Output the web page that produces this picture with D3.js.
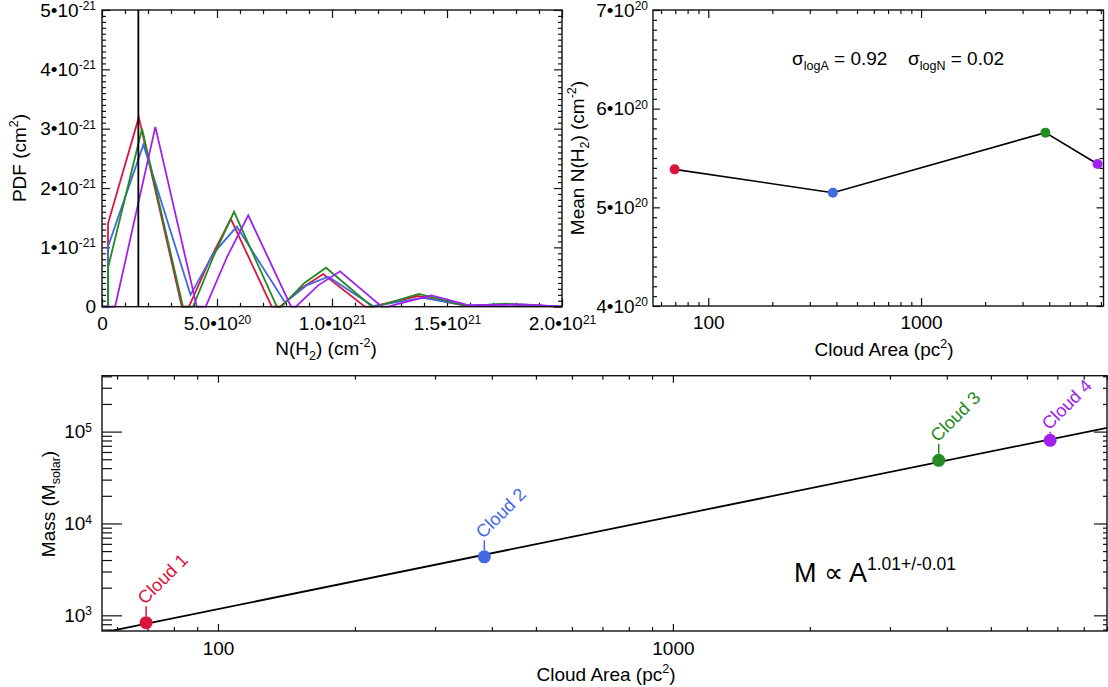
<!DOCTYPE html>
<html><head><meta charset="utf-8">
<script src="https://cdn.jsdelivr.net/npm/d3@7"></script>
<style>
body{margin:0;background:#fff;}
svg{display:block;}
</style></head><body>
<svg id="chart" width="1108" height="687"></svg>
<script>
// ---------------- DATA ----------------
const cloudNames = ["Cloud 1", "Cloud 2", "Cloud 3", "Cloud 4"];
const cloudColors = ["#DC143C", "#4169E1", "#228B22", "#A020F0"];
const cloudArea = [69.5, 385, 3840, 6750];                 // pc^2
const cloudMeanN = [5.385e20, 5.148e20, 5.757e20, 5.439e20]; // cm^-2
const cloudMass = [832, 4335, 48700, 80300];               // M_solar
const fitSlope = 1.01, fitErr = 0.01, fitLogNorm = 1.048;
const sigmaLogA = 0.92, sigmaLogN = 0.02;
const nThreshold = 1.58e20;

// PDF curves: N in units of 1e20 cm^-2, PDF in units of 1e-21 cm^2
const pdf1N = [0,0.26,0.26,1.60,3.47,3.78,4.70,5.60,7.38,7.74,8.70,9.62,11.43,11.74,13.74,15.87,17.52,20];
const pdf1P = [0,0,1.40,3.19,0,0,0.80,1.48,0,0,0.32,0.55,0,0,0.18,0.01,0.04,0];
const pdf2N = [0,0.26,0.26,1.80,3.85,4.85,5.86,7.96,8.90,9.84,11.78,13.96,15.87,17.52,20];
const pdf2P = [0,0,1.01,2.73,0.20,0.90,1.35,0.07,0.36,0.505,0.01,0.15,0.02,0.04,0];
const pdf3N = [0,0.27,0.27,1.74,3.52,3.96,4.85,5.74,7.60,7.81,8.80,9.74,11.74,11.91,13.78,15.87,17.52,20];
const pdf3P = [0,0,0.67,3.00,0,0,0.85,1.60,0,0,0.40,0.657,0,0,0.214,0.01,0.05,0];
const pdf4N = [0,0.57,2.32,4.12,4.51,5.45,6.36,8.22,8.43,9.40,10.35,12.16,12.43,14.33,16.0,18.3,20];
const pdf4P = [0,0,3.03,0,0,0.85,1.54,0,0,0.36,0.596,0,0,0.19,0.02,0.04,0];
const pdfN = [pdf1N, pdf2N, pdf3N, pdf4N];
const pdfP = [pdf1P, pdf2P, pdf3P, pdf4P];

// tick labels
const pdfXTicks = [0, 5e20, 1e21, 1.5e21, 2e21];
const pdfXTickBase = ["0", "5.0•10", "1.0•10", "1.5•10", "2.0•10"];
const pdfXTickExp = ["", "20", "21", "21", "21"];
const pdfYTicks = [0, 1e-21, 2e-21, 3e-21, 4e-21, 5e-21];
const pdfYTickBase = ["0", "1•10", "2•10", "3•10", "4•10", "5•10"];
const pdfYTickExp = ["", "-21", "-21", "-21", "-21", "-21"];
const meanYTicks = [4e20, 5e20, 6e20, 7e20];
const meanYTickBase = ["4•10", "5•10", "6•10", "7•10"];
const meanYTickExp = ["20", "20", "20", "20"];
const areaTicks = [100, 1000];
const areaTickLabels = ["100", "1000"];
const massTicks = [1e3, 1e4, 1e5];
const massTickBase = ["10", "10", "10"];
const massTickExp = ["3", "4", "5"];

// ---------------- DRAWING ----------------
const F = '"Liberation Sans", Arial, Helvetica, sans-serif';
const INK = "#111";
const svg = d3.select("#chart").attr("font-family", F);
const labelStem = [10, 10, 10, 2];

function frame(x0, y0, x1, y1) {
  svg.append("rect").attr("x", x0).attr("y", y0).attr("width", x1 - x0).attr("height", y1 - y0)
    .attr("fill", "none").attr("stroke", INK).attr("stroke-width", 1.4);
}
function axis(fn, scale, values, size, tx, ty, labeler, pad) {
  const a = fn(scale).tickValues(values).tickSize(size).tickSizeOuter(0)
    .tickPadding(pad || 0).tickFormat(() => "");
  const g = svg.append("g").attr("transform", `translate(${tx},${ty})`).call(a);
  g.select(".domain").remove();
  g.attr("font-family", F).attr("font-size", 19);
  g.selectAll(".tick line").attr("stroke", INK).attr("stroke-width", 1.2);
  if (labeler) g.selectAll(".tick text").each(function (d, i) { labeler(d3.select(this), d, i); });
  else g.selectAll(".tick text").remove();
  return g;
}
function supLabel(t, base, sup) {
  t.text(null).attr("fill", "#000");
  t.append("tspan").text(base);
  if (sup) t.append("tspan").attr("font-size", 12).attr("dy", -6.5).text(sup);
}
function rich(t, parts, small, subOff, supOff) {
  let shift = 0;
  parts.forEach(([s, m]) => {
    const target = m === "sub" ? subOff : (m === "sup" ? -supOff : 0);
    const ts = t.append("tspan").text(s).attr("dy", target - shift);
    if (m) ts.attr("font-size", small);
    shift = target;
  });
}
function minorRange(a, b, step, majors) {
  return d3.range(a, b + step / 2, step).filter(v => !majors.some(m => Math.abs(m - v) < step / 100));
}
function logMinors(lo, hi) {
  const out = [];
  for (let e = Math.floor(Math.log10(lo)); e <= Math.ceil(Math.log10(hi)); e++)
    for (let k = 2; k <= 9; k++) { const v = k * Math.pow(10, e); if (v >= lo && v <= hi) out.push(v); }
  return out;
}

// ===== Panel 1: PDFs =====
const P1 = {x0: 102, x1: 562, y0: 10, y1: 306.7};
const x1 = d3.scaleLinear().domain([0, 2e21]).range([P1.x0, P1.x1]);
const y1 = d3.scaleLinear().domain([0, 5e-21]).range([P1.y1, P1.y0]);

const pdfXMinor = minorRange(0, 2e21, 1e20, pdfXTicks);
const pdfYMinor = minorRange(0, 5e-21, 0.1e-21, pdfYTicks);
axis(d3.axisBottom, x1, pdfXMinor, -4, 0, P1.y1);
axis(d3.axisTop, x1, pdfXMinor, -4, 0, P1.y0);
axis(d3.axisTop, x1, pdfXTicks, -8, 0, P1.y0);
axis(d3.axisBottom, x1, pdfXTicks, -8, 0, P1.y1, (t, d, i) => supLabel(t, pdfXTickBase[i], pdfXTickExp[i]), 10);
axis(d3.axisLeft, y1, pdfYMinor, -4, P1.x0, 0);
axis(d3.axisRight, y1, pdfYMinor, -4, P1.x1, 0);
axis(d3.axisRight, y1, pdfYTicks, -8, P1.x1, 0);
axis(d3.axisLeft, y1, pdfYTicks, -8, P1.x0, 0, (t, d, i) => supLabel(t, pdfYTickBase[i], pdfYTickExp[i]), 6);

const pdfLine = d3.line().x(d => x1(d[0] * 1e20)).y(d => y1(d[1] * 1e-21));
pdfN.forEach((ns, k) => {
  const pts = ns.map((n, i) => [n, pdfP[k][i]]);
  svg.append("path").attr("d", pdfLine(pts)).attr("fill", "none")
    .attr("stroke", cloudColors[k]).attr("stroke-width", 1.8).attr("stroke-linejoin", "miter");
});
svg.append("line").attr("x1", x1(nThreshold)).attr("x2", x1(nThreshold))
  .attr("y1", y1(0)).attr("y2", y1(5e-21)).attr("stroke", "#000").attr("stroke-width", 1.8);
frame(P1.x0, P1.y0, P1.x1, P1.y1);

rich(svg.append("text").attr("transform", "translate(26,158) rotate(-90)")
  .attr("text-anchor", "middle").attr("font-size", 19),
  [["PDF (cm", ""], ["2", "sup"], [")", ""]], 12.5, 5, 8);
rich(svg.append("text").attr("x", 326).attr("y", 355)
  .attr("text-anchor", "middle").attr("font-size", 19),
  [["N(H", ""], ["2", "sub"], [") (cm", ""], ["-2", "sup"], [")", ""]], 12.5, 5, 8);

// ===== Panel 2: Mean N vs area =====
const P2 = {x0: 653, x1: 1103.5, y0: 10, y1: 306};
const x2 = d3.scaleLog().domain([55, 7200]).range([P2.x0, P2.x1]);
const y2 = d3.scaleLinear().domain([4e20, 7e20]).range([P2.y1, P2.y0]);
const x2Minor = logMinors(55, 7200);
const y2Minor = minorRange(4e20, 7e20, 0.1e20, meanYTicks);
axis(d3.axisBottom, x2, x2Minor, -4, 0, P2.y1);
axis(d3.axisTop, x2, x2Minor, -4, 0, P2.y0);
axis(d3.axisTop, x2, areaTicks, -8, 0, P2.y0);
axis(d3.axisBottom, x2, areaTicks, -8, 0, P2.y1, (t, d, i) => supLabel(t, areaTickLabels[i], ""), 10);
axis(d3.axisLeft, y2, y2Minor, -4, P2.x0, 0);
axis(d3.axisRight, y2, y2Minor, -4, P2.x1, 0);
axis(d3.axisRight, y2, meanYTicks, -7, P2.x1, 0);
axis(d3.axisLeft, y2, meanYTicks, -7, P2.x0, 0, (t, d, i) => supLabel(t, meanYTickBase[i], meanYTickExp[i]), 5);

const meanPts = cloudArea.map((a, i) => [a, cloudMeanN[i]]);
svg.append("path").attr("d", d3.line().x(d => x2(d[0])).y(d => y2(d[1]))(meanPts))
  .attr("fill", "none").attr("stroke", "#000").attr("stroke-width", 1.6);
svg.selectAll(".meanDot").data(meanPts).enter().append("circle")
  .attr("cx", d => x2(d[0])).attr("cy", d => y2(d[1])).attr("r", 5)
  .attr("fill", (d, i) => cloudColors[i]);
frame(P2.x0, P2.y0, P2.x1, P2.y1);

const sig1 = svg.append("text").attr("x", 792).attr("y", 65).attr("font-size", 19);
rich(sig1, [["σ", ""], ["logA", "sub"], [" = " + sigmaLogA.toFixed(2), ""]], 12.5, 5, 8);
const sig2 = svg.append("text").attr("x", 908).attr("y", 65).attr("font-size", 19);
rich(sig2, [["σ", ""], ["logN", "sub"], [" = " + sigmaLogN.toFixed(2), ""]], 12.5, 5, 8);

rich(svg.append("text").attr("transform", "translate(584,158) rotate(-90)")
  .attr("text-anchor", "middle").attr("font-size", 19),
  [["Mean N(H", ""], ["2", "sub"], [") (cm", ""], ["-2", "sup"], [")", ""]], 12.5, 5, 8);
rich(svg.append("text").attr("x", 884).attr("y", 356)
  .attr("text-anchor", "middle").attr("font-size", 19),
  [["Cloud Area (pc", ""], ["2", "sup"], [")", ""]], 12.5, 5, 8);

// ===== Panel 3: Mass vs area =====
const P3 = {x0: 102, x1: 1107, y0: 375.7, y1: 631};
const x3 = d3.scaleLog().domain([55.6, 9000]).range([P3.x0, P3.x1]);
const y3 = d3.scaleLog().domain([675, 4.06e5]).range([P3.y1, P3.y0]);
const x3Minor = logMinors(55.6, 9000);
const y3Minor = logMinors(675, 4.06e5);
axis(d3.axisBottom, x3, x3Minor, -4, 0, P3.y1);
axis(d3.axisTop, x3, x3Minor, -4, 0, P3.y0);
axis(d3.axisTop, x3, areaTicks, -7, 0, P3.y0);
axis(d3.axisBottom, x3, areaTicks, -7, 0, P3.y1, (t, d, i) => supLabel(t, areaTickLabels[i], ""), 11);
axis(d3.axisLeft, y3, y3Minor, -10, P3.x0, 0);
axis(d3.axisRight, y3, y3Minor, -4, P3.x1, 0);
axis(d3.axisRight, y3, massTicks, -13, P3.x1, 0);
axis(d3.axisLeft, y3, massTicks, -20, P3.x0, 0, (t, d, i) => supLabel(t, massTickBase[i], massTickExp[i]), 10);

svg.append("clipPath").attr("id", "clip3").append("rect")
  .attr("x", P3.x0).attr("y", P3.y0).attr("width", P3.x1 - P3.x0).attr("height", P3.y1 - P3.y0);
const fitPts = x3.domain().map(a => [a, Math.pow(10, fitLogNorm) * Math.pow(a, fitSlope)]);
svg.append("path").attr("clip-path", "url(#clip3)")
  .attr("d", d3.line().x(d => x3(d[0])).y(d => y3(d[1]))(fitPts))
  .attr("fill", "none").attr("stroke", "#000").attr("stroke-width", 1.8);

const massPts = cloudArea.map((a, i) => [a, cloudMass[i]]);
const R3 = 6.5;
massPts.forEach((d, i) => {
  const cx = x3(d[0]), cy = y3(d[1]);
  const top = cy - R3, stemTop = top - labelStem[i];
  svg.append("line").attr("x1", cx).attr("x2", cx).attr("y1", top).attr("y2", stemTop)
    .attr("stroke", cloudColors[i]).attr("stroke-width", 1.5);
  svg.append("circle").attr("cx", cx).attr("cy", cy).attr("r", R3).attr("fill", cloudColors[i]);
  svg.append("text").attr("transform", `translate(${cx - 1},${stemTop - 1}) rotate(-45)`)
    .attr("font-size", 18).attr("fill", cloudColors[i]).text(cloudNames[i]);
});
frame(P3.x0, P3.y0, P3.x1, P3.y1);

rich(svg.append("text").attr("x", 794).attr("y", 582).attr("font-size", 27),
  [["M ∝ A", ""], [fitSlope.toFixed(2) + "+/-" + fitErr.toFixed(2), "sup"]], 17.5, 6, 12);

rich(svg.append("text").attr("transform", "translate(55,504) rotate(-90)")
  .attr("text-anchor", "middle").attr("font-size", 19),
  [["Mass (M", ""], ["solar", "sub"], [")", ""]], 12.5, 5, 8);
rich(svg.append("text").attr("x", 606).attr("y", 681)
  .attr("text-anchor", "middle").attr("font-size", 19),
  [["Cloud Area (pc", ""], ["2", "sup"], [")", ""]], 12.5, 5, 8);
</script>
</body></html>
